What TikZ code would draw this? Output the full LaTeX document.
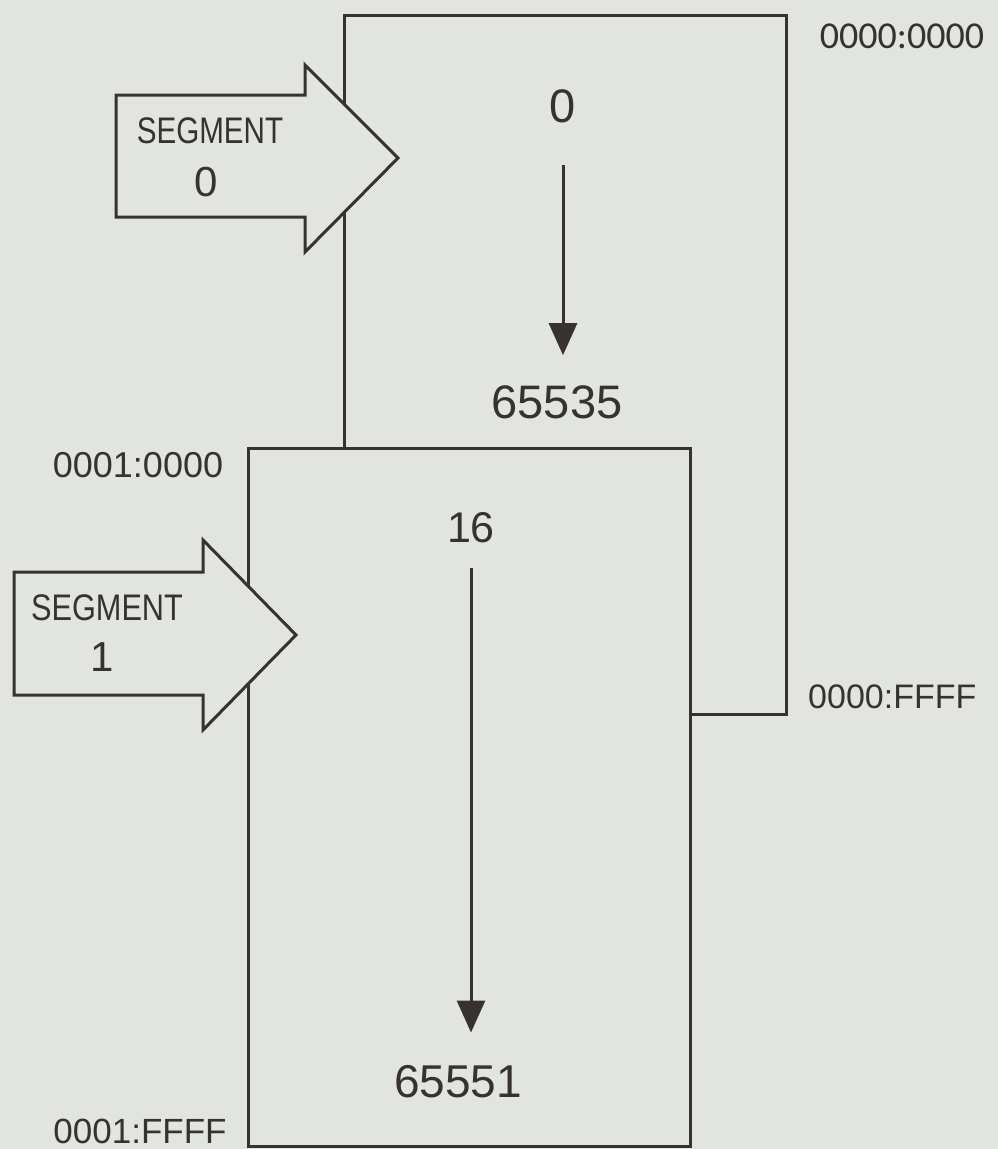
\documentclass[tikz,border=0pt]{standalone}
\usepackage{fontspec}
\setmainfont{Liberation Sans}
\newfontfamily\calfont{Carlito}
\usetikzlibrary{arrows.meta}
\definecolor{paper}{RGB}{226,228,223}
\definecolor{ink}{RGB}{55,50,48}
\begin{document}
\begin{tikzpicture}[x=1pt,y=-1pt,
  frame/.style={draw=ink,line width=3pt,fill=paper,inner sep=0pt,anchor=north west},
  txt/.style={text=ink,inner sep=0pt},
  flow/.style={draw=ink,line width=3pt,-{Triangle[width=28pt,length=32pt]}},
  segarrow/.style={draw=ink,line width=3pt,fill=paper,line join=miter}]
\fill[paper] (0,0) rectangle (998,1149);
\useasboundingbox (0,0) rectangle (998,1149);
% segment boxes
\node[frame,minimum width=442pt,minimum height=699pt] (box0) at (343,14) {};
\node[frame,minimum width=442pt,minimum height=698pt] (box1) at (247,447) {};
% block arrows
\draw[segarrow] (116,95) -- (305,95) -- (305,65) -- (398,158) -- (305,252) -- (305,217) -- (116,217) -- cycle;
\draw[segarrow] (14,572) -- (203,572) -- (203,540) -- (296,635) -- (203,730) -- (203,695) -- (14,695) -- cycle;
\node[txt,font=\fontsize{37}{37}\selectfont] (seg0name) at (210,131) {\scalebox{0.8}[1]{SEGMENT}};
\node[txt,font=\fontsize{42}{42}\selectfont] (seg0num) at (206,182) {0};
\node[txt,font=\fontsize{37}{37}\selectfont] (seg1name) at (107,608) {\scalebox{0.83}[1]{SEGMENT}};
\node[txt,font=\fontsize{42}{42}\selectfont] (seg1num) at (102,657) {1};
% offsets
\node[txt,font=\fontsize{47}{47}\selectfont] (top0) at (563,106) {0};
\node[txt,font=\fontsize{47}{47}\selectfont] (top65535) at (557,402) {65535};
\node[txt,font=\fontsize{43}{43}\selectfont] (bot16) at (471,528) {16};
\node[txt,font=\fontsize{46}{46}\selectfont] (bot65551) at (458,1082) {65551};
\draw[flow,shorten <=42pt,shorten >=30pt] (top0.south) -- (top0.south |- top65535.north);
\draw[flow,shorten <=25pt,shorten >=33pt] (bot16.south) -- (bot16.south |- bot65551.north);
% addresses
\node[txt,font=\calfont\fontsize{38}{38}\selectfont] (a00) at (902,36) {0000:0000};
\node[txt,font=\fontsize{34}{34}\selectfont,anchor=west] (a0F) at (808,697) {0000:FFFF};
\node[txt,font=\fontsize{36}{36}\selectfont] (a10) at (138,465) {0001:0000};
\node[txt,font=\fontsize{35}{35}\selectfont] (a1F) at (140,1131) {0001:FFFF};
\end{tikzpicture}
\end{document}
